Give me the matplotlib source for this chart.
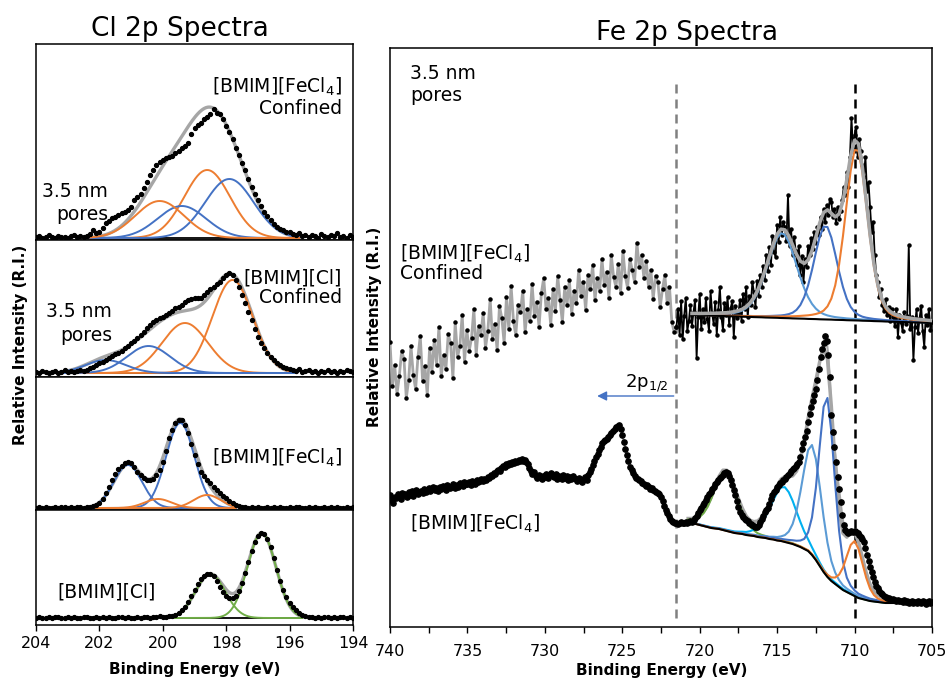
import numpy as np
import matplotlib
matplotlib.use('Agg')
from matplotlib import pyplot as plt

plt.rcParams['font.family'] = ['DejaVu Sans']
plt.rcParams['mathtext.default'] = 'regular'

# ---------------------------------------------------------------
# Cl 2p : points mesurés, 204 -> 194 eV par pas de 0.1 eV
# (intensité relative, ligne de base = 0)
cl_fecl4_confine = [1, 2, 0, 1, 3, 1, 0, 2, 1, 1, 0, 2, 3, 1, 2, 1, 2,
                    4, 8, 5, 6, 10, 15, 17, 20, 21, 23, 25, 26, 28, 31, 38, 41, 44, 50,
                    56, 63, 68, 73, 76, 78, 80, 81, 82, 85, 87, 90, 92, 95, 104, 110,
                    113, 115, 119, 121, 124, 129, 125, 124, 119, 112, 106, 99, 90, 83,
                    75, 68, 59, 51, 44, 38, 32, 26, 22, 18, 14, 11, 9, 8, 6, 6,
                    4, 3, 5, 2, 3, 1, 3, 2, 0, 4, 2, 1, 3, 2, 5, 1, 2, 0, 3, 1]
cl_cl_confine = [1, 0, 2, 1, 0, 1, 2, 0, 1, 3, 1, 2, 1, 2, 3, 2,
                 3, 5, 6, 8, 10, 11, 13, 15, 17, 19, 20, 22, 25, 27, 30, 32, 35, 38,
                 41, 45, 48, 51, 53, 55, 56, 58, 60, 62, 65, 66, 68, 71, 73, 74, 75,
                 75, 75, 78, 81, 84, 86, 89, 91, 95, 98, 100, 98, 93, 86, 78, 70, 61,
                 53, 44, 36, 30, 25, 20, 16, 13, 10, 8, 6, 5, 4,
                 3, 2, 4, 1, 2, 3, 1, 2, 0, 2, 1, 3, 1, 2, 0, 2, 1, 3, 2, 1]
cl_fecl4 = [0, 1, 0, 1, 0, 0, 1, 0, 1, 1, 0, 1, 0, 1, 1, 0, 1, 1,
            2, 3, 5, 9, 15, 21, 28, 34, 39, 42, 45, 46, 45, 41, 36, 33, 30, 28,
            28, 29, 33, 38, 46, 57, 70, 78, 85, 88, 88, 83, 75, 64, 53, 44, 36,
            32, 28, 25, 21, 18, 15, 12, 10, 7, 5, 3, 2,
            1, 1, 0, 1, 0, 1, 0, 0, 1, 0, 1, 0, 1, 0, 0, 1, 0, 1, 1, 0,
            0, 1, 0, 1, 0, 0, 1, 0, 1, 0, 1, 0, 0, 1, 0, 1]
cl_cl = [0, 1, 0, 0, 1, 0, 1, 1, 0, 0, 1, 0, 1, 0, 0, 1, 1, 0, 0, 1,
         0, 1, 0, 1, 0, 0, 1, 1, 0, 1, 0, 0, 1, 0, 1, 1, 0, 1, 1, 2, 1, 1, 2,
         2, 3, 5, 8, 11, 16, 22, 28, 34, 39, 42, 44, 44, 42, 37, 31, 26, 22,
         20, 20, 22, 27, 35, 45, 56, 67, 76, 82, 85, 84, 79, 71, 60, 48, 37,
         28, 21, 15, 11, 8, 5, 3, 2,
         1, 1, 0, 1, 0, 1, 1, 0, 1, 0, 1, 1, 0, 1, 0]

# composantes du fit Cl 2p : centre (eV), hauteur, largeur à mi-hauteur (eV)
centres_fecl4_confine = [198.6, 197.9, 199.4, 200.1]
hauteurs_fecl4_confine = [68, 59, 32, 37]
largeurs_fecl4_confine = [1.7, 1.8, 1.8, 1.8]
centres_cl_confine = [197.8, 199.3, 200.45, 201.8]
hauteurs_cl_confine = [93, 50, 27, 13]
largeurs_cl_confine = [1.5, 1.7, 1.6, 1.5]
centres_fecl4 = [199.45, 201.1, 198.6, 200.15]
hauteurs_fecl4 = [85, 43, 13, 9]
largeurs_fecl4 = [1.05, 1.05, 1.0, 1.0]
centres_cl = [196.88, 198.5]
hauteurs_cl = [85, 44]
largeurs_cl = [1.05, 1.1]

# ---------------------------------------------------------------
# Fe 2p confiné : 740 -> 721.5 eV (gris, pas ~0.15 eV)
fe_confine_gauche = [285, 241, 262, 233, 251, 276, 268, 229, 247, 281,
                     252, 238, 270, 291, 246, 261, 232, 279, 255, 287,
                     262, 300, 251, 272, 258, 293, 284, 249, 305, 270,
                     281, 312, 265, 297, 276, 289, 318, 272, 301, 292,
                     314, 279, 296, 328, 288, 303, 277, 321, 309, 284,
                     330, 298, 341, 306, 292, 322, 315, 336, 295, 318,
                     306, 343, 311, 325, 300, 334, 349, 318, 329, 302,
                     338, 316, 351, 327, 305, 340, 322, 347, 313, 336,
                     324, 357, 331, 345, 317, 352, 338, 362, 327, 349,
                     336, 368, 342, 355, 329, 372, 350, 340, 363, 334,
                     376, 351, 339, 368, 357, 345, 384, 360, 372, 349,
                     366, 340, 357, 328, 351, 345, 320, 338, 352, 324,
                     340, 305, 295, 300]
# puis 721.5 -> 705 eV (noir, pas 0.1 eV)
fe_confine_droite = [300, 318, 292, 326, 288, 311, 329, 296, 306, 322,
                     301, 315, 327, 269, 310, 333, 298, 318, 305, 329,
                     308, 296, 336, 314, 303, 325, 292, 317, 340, 310,
                     297, 324, 312, 330, 302, 319, 326, 290, 321, 309,
                     314, 327, 306, 333, 318, 340, 310, 331, 322, 345,
                     335, 320, 346, 331, 352, 340, 361, 347, 372, 356,
                     380, 362, 391, 375, 370, 402, 385, 410, 392, 405,
                     400, 386, 432, 381, 398, 372, 390, 376, 362, 381,
                     352, 371, 345, 368, 360, 381, 372, 389, 378, 395,
                     384, 400, 392, 410, 398, 418, 405, 422, 412, 428,
                     425, 410, 418, 404, 420, 408, 416, 427, 440, 432,
                     455, 440, 470, 509, 478, 492, 500, 470, 488, 476,
                     462, 450, 470, 436, 445, 420, 395, 405, 372, 352,
                     345, 330, 338, 322, 316, 328, 312, 320, 306, 318,
                     310, 301, 318, 290, 312, 305, 296, 315, 303, 311,
                     382, 298, 310, 267, 300, 318, 294, 309, 321, 296,
                     280, 312, 302, 318, 297, 305]
# fond du fit (720.5 -> 705 eV, pas 0.25 eV)
fond_confine = [312.0, 311.9, 311.7, 311.6, 311.5, 311.4, 311.2, 311.1, 311.0, 310.8,
                310.7, 310.6, 310.5, 310.3, 310.2, 310.1, 309.9, 309.8, 309.7, 309.5,
                309.4, 309.3, 309.2, 309.0, 308.9, 308.8, 308.6, 308.5, 308.4, 308.3,
                308.1, 308.0, 307.9, 307.7, 307.6, 307.5, 307.4, 307.2, 307.1, 307.0,
                306.8, 306.7, 306.6, 306.5, 306.3, 306.2, 306.1, 305.9, 305.8, 305.7,
                305.5, 305.4, 305.3, 305.2, 305.0, 304.9, 304.8, 304.6, 304.5, 304.4,
                304.3, 304.1, 304.0]
centres_fe_confine = [714.68, 711.88, 709.88]
hauteurs_fe_confine = [85, 94, 173]
largeurs_fe_confine = [2.3, 1.8, 1.7]

# Fe 2p [BMIM][FeCl4] : 740 -> 705 eV, pas 0.1 eV
fe_massif = [132, 127, 124, 130, 129, 133, 131, 128, 134, 132,
             133, 130, 135, 132, 136, 131, 134, 137, 133, 135,
             136, 134, 138, 135, 137, 139, 136, 138, 140, 137,
             139, 136, 140, 138, 141, 139, 137, 142, 140, 139,
             141, 143, 139, 142, 140, 144, 142, 141, 145, 143,
             143, 145, 142, 146, 144, 143, 147, 145, 146, 148,
             146, 148, 147, 150, 149, 152, 151, 154, 153, 156,
             157, 156, 159, 161, 160, 163, 162, 164, 163, 165,
             164, 166, 165, 167, 166, 168, 166, 167, 165, 163,
             159, 156, 153, 155, 151, 149, 152, 150, 148, 151,
             150, 153, 149, 152, 154, 151, 150, 153, 148, 151,
             150, 148, 152, 149, 151, 147, 150, 148, 151, 149,
             148, 146, 149, 147, 145, 148, 150, 147, 152, 155,
             158, 162, 166, 170, 173, 177, 180, 184, 186, 187,
             188, 190, 192, 194, 196, 198, 200, 201, 202, 198,
             192, 185, 178, 172, 166, 160, 157, 154, 151, 149,
             148, 147, 146, 144, 143, 141, 142, 140, 138, 139,
             137, 136, 135, 134, 133, 130, 126, 121, 117, 114,
             111, 108, 106, 105, 104, 104, 103, 104, 105, 104,
             104, 105, 104, 105, 106, 105, 107, 109, 111, 114,
             117, 119, 122, 124, 127, 130, 133, 135, 138, 140,
             143, 145, 147, 149, 150, 152, 154, 155, 154, 151,
             147, 142, 137, 132, 126, 120, 115, 112, 110, 108,
             107, 106, 104, 103, 102, 101, 100, 100, 102, 105,
             108, 111, 115, 117, 119, 123, 128, 132, 135, 137,
             140, 142, 144, 145, 147, 148, 150, 152, 154, 156,
             158, 159, 161, 163, 165, 170, 178, 184, 190, 196,
             205, 213, 220, 226, 232, 238, 247, 258, 270, 278,
             284, 291, 286, 272, 250, 212, 195, 180, 165, 150,
             138, 125, 112, 102, 97, 95, 94, 95, 96, 95,
             96, 95, 94, 92, 90, 88, 85, 79, 72, 66,
             60, 55, 50, 45, 41, 39, 36, 34, 33, 31,
             30, 29, 29, 28, 27, 28, 27, 26, 27, 26,
             26, 25, 27, 25, 26, 24, 25, 26, 24, 25,
             24, 26, 25, 24, 26, 25, 23, 25, 26, 24,
             25]
# fond de Shirley (720.75 -> 705 eV, pas 0.25 eV)
fond_massif = [105, 104, 103, 102, 101, 100, 99, 98.5, 98, 97,
               96, 95, 94, 93.5, 93, 92, 91.5, 91, 90, 89.5,
               89, 88, 87.5, 86.5, 86, 85, 84, 83, 81.5, 80,
               78, 76, 72, 67, 61, 55, 50, 46, 43, 40,
               37, 35, 33, 31, 29, 28, 27, 26, 25.5, 25,
               24.5, 24, 24, 24, 24, 24, 24, 24, 24, 24,
               24, 24, 24, 24]
centres_fe_massif = [718.35, 714.57, 712.75, 711.8, 710.0]
hauteurs_fe_massif = [59, 55, 110, 180, 55]
largeurs_fe_massif = [1.8, 2.0, 1.5, 1.2, 1.3]

cl_graduations = [204, 202, 200, 198, 196, 194]
fe_graduations = [740, 735, 730, 725, 720, 715, 710, 705]
fe_graduations_mineures = [737.5, 732.5, 727.5, 722.5, 717.5, 712.5, 707.5]
lignes_ref = [721.5, 710.0]

ORANGE = '#ED7D31'
BLEU = '#4472C4'
BLEU_CLAIR = '#5B9BD5'
CYAN = '#00B0F0'
VERT = '#70AD47'
GRIS = '#A6A6A6'


# profil pseudo-Voigt (Gauss + fraction eta de Lorentz)
def pic(x, centre, hauteur, largeur, eta=0.0):
    d = (x - centre) / largeur
    g = np.exp(-4 * np.log(2) * d ** 2)
    l = 1 / (1 + 4 * d ** 2)
    return hauteur * ((1 - eta) * g + eta * l)


W, H = 948, 679
fig = plt.figure(figsize=(W / 100, H / 100), dpi=100)


def cadre(x0, y0, x1, y1):
    return [x0 / W, 1 - y1 / H, (x1 - x0) / W, (y1 - y0) / H]


def texte(x, y, s, ha='left', taille=13.5, **kw):
    fig.text(x / W, 1 - y / H, s, ha=ha, va='baseline', fontsize=taille, **kw)


# ---------------------------- Cl 2p ----------------------------
panneaux = [
    (cl_fecl4_confine, centres_fecl4_confine, hauteurs_fecl4_confine,
     largeurs_fecl4_confine, [ORANGE, BLEU, BLEU, ORANGE], (202.5, 195.7)),
    (cl_cl_confine, centres_cl_confine, hauteurs_cl_confine,
     largeurs_cl_confine, [ORANGE, ORANGE, BLEU, BLEU], (203.2, 195.8)),
    (cl_fecl4, centres_fecl4, hauteurs_fecl4,
     largeurs_fecl4, [BLEU, BLEU, ORANGE, ORANGE], (202.1, 197.7)),
    (cl_cl, centres_cl, hauteurs_cl,
     largeurs_cl, [VERT, VERT], (199.7, 195.6)),
]
bornes = [44, 240, 377, 510, 625]
lignes_base = [238, 373, 508, 618]
cl_energie = np.linspace(204, 194, len(cl_cl))

for k, (donnees, centres, hauteurs, largeurs, couleurs, zone) in enumerate(panneaux):
    haut, bas = bornes[k], bornes[k + 1]
    ax = fig.add_axes(cadre(36, haut, 353, bas))
    xf = np.linspace(zone[0], zone[1], 300)
    enveloppe = sum(pic(xf, c, h, w) for c, h, w in zip(centres, hauteurs, largeurs))
    ax.plot(xf, np.zeros_like(xf), color='black', lw=1.3, zorder=2)
    ax.plot(xf, enveloppe, color=GRIS, lw=2.4, zorder=3)
    for c, h, w, col in zip(centres, hauteurs, largeurs, couleurs):
        ax.plot(xf, pic(xf, c, h, w), color=col, lw=1.4, zorder=4)
    ax.plot(cl_energie, donnees, 'o', color='black', ms=2.8, zorder=5)
    ax.set_xlim(204, 194)
    ax.set_ylim(lignes_base[k] - bas, lignes_base[k] - haut)
    ax.set_yticks([])
    for s in ax.spines.values():
        s.set_linewidth(1.1)
    if k < 3:
        ax.tick_params(axis='x', bottom=False, labelbottom=False)
    else:
        ax.set_xticks(cl_graduations)
        ax.tick_params(axis='x', direction='out', length=4, width=1,
                       labelsize=11.5, pad=4)

# ---------------------------- Fe 2p ----------------------------
ax = fig.add_axes(cadre(390, 48, 932, 627))
ax.set_xlim(740, 705)
ax.set_ylim(0, 579)
ax.set_yticks([])
ax.set_xticks(fe_graduations)
ax.set_xticks(fe_graduations_mineures, minor=True)
ax.tick_params(axis='x', which='both', direction='out', length=4, width=1,
               labelsize=11.5, pad=8)
for s in ax.spines.values():
    s.set_linewidth(1.1)

for x, col in zip(lignes_ref, ['#808080', 'black']):
    ax.axvline(x, ymin=0.016, ymax=0.94, color=col, lw=1.8,
               ls=(0, (3.6, 2.4)), zorder=1)

# spectre confiné
x_g = np.linspace(740, 721.5, len(fe_confine_gauche))
x_d = np.linspace(721.5, 705, len(fe_confine_droite))
ax.plot(x_g, fe_confine_gauche, '-', color=GRIS, lw=2, marker='o', ms=2.2,
        mfc='black', mec='black', zorder=3)
ax.plot(x_d, fe_confine_droite, '-o', color='black', lw=1.3, ms=2.2, zorder=3)
xf = np.linspace(720.5, 705, len(fond_confine))
fond = np.array(fond_confine)
env = fond.copy()
for c, h, w, col in zip(centres_fe_confine, hauteurs_fe_confine,
                        largeurs_fe_confine, [BLEU_CLAIR, BLEU, ORANGE]):
    comp = pic(xf, c, h, w, 0.3)
    env = env + comp
    ax.plot(xf, fond + comp, color=col, lw=1.5, zorder=4)
ax.plot(xf, fond, color='black', lw=1.5, zorder=4)
ax.plot(xf, env, color=GRIS, lw=2.5, zorder=5)

# spectre [BMIM][FeCl4]
x_b = np.linspace(740, 705, len(fe_massif))
ax.plot(x_b, fe_massif, '-', color=GRIS, lw=1.5, zorder=3)
xf = np.linspace(720.75, 705, len(fond_massif))
fond = np.array(fond_massif)
env = fond.copy()
comps = []
for c, h, w in zip(centres_fe_massif, hauteurs_fe_massif, largeurs_fe_massif):
    comp = pic(xf, c, h, w, 0.3)
    env = env + comp
    comps.append(comp)
ax.plot(xf, env, color=GRIS, lw=2.5, zorder=4)
for comp, col in zip(comps, [VERT, CYAN, BLEU_CLAIR, BLEU, ORANGE]):
    ax.plot(xf, fond + comp, color=col, lw=1.5, zorder=5)
ax.plot(xf, fond, color='black', lw=1.5, zorder=5)
ax.plot(x_b, fe_massif, 'o', color='black', ms=3.8, zorder=6)

ax.annotate('', xy=(726.8, 231), xytext=(721.5, 231),
            arrowprops=dict(arrowstyle='-|>', color=BLEU, lw=1, mutation_scale=14))

# ---------------------------- textes ----------------------------
texte(180, 36, 'Cl 2p Spectra', ha='center', taille=19)
texte(687, 40, 'Fe 2p Spectra', ha='center', taille=19)

texte(342, 93, '[BMIM][FeCl$_4$]', ha='right')
texte(342, 114, 'Confined', ha='right')
texte(108, 197, '3.5 nm', ha='right')
texte(108, 220, 'pores', ha='right')
texte(342, 283, '[BMIM][Cl]', ha='right')
texte(342, 303, 'Confined', ha='right')
texte(112, 317, '3.5 nm', ha='right')
texte(112, 341, 'pores', ha='right')
texte(342, 464, '[BMIM][FeCl$_4$]', ha='right')
texte(57, 597, '[BMIM][Cl]')

texte(410, 79, '3.5 nm')
texte(410, 101, 'pores')
texte(400, 260, '[BMIM][FeCl$_4$]')
texte(400, 279, 'Confined')
texte(410, 530, '[BMIM][FeCl$_4$]')
texte(625, 388, '2p$_{1/2}$', taille=13)

texte(195, 674, 'Binding Energy (eV)', ha='center', taille=11, weight='bold')
texte(662, 675, 'Binding Energy (eV)', ha='center', taille=11, weight='bold')
fig.text(21 / W, 1 - 345 / H, 'Relative Intensity (R.I.)', rotation=90,
         ha='center', va='center', fontsize=11, weight='bold')
fig.text(375 / W, 1 - 327 / H, 'Relative Intensity (R.I.)', rotation=90,
         ha='center', va='center', fontsize=11, weight='bold')

plt.savefig('out.png', dpi=100)
